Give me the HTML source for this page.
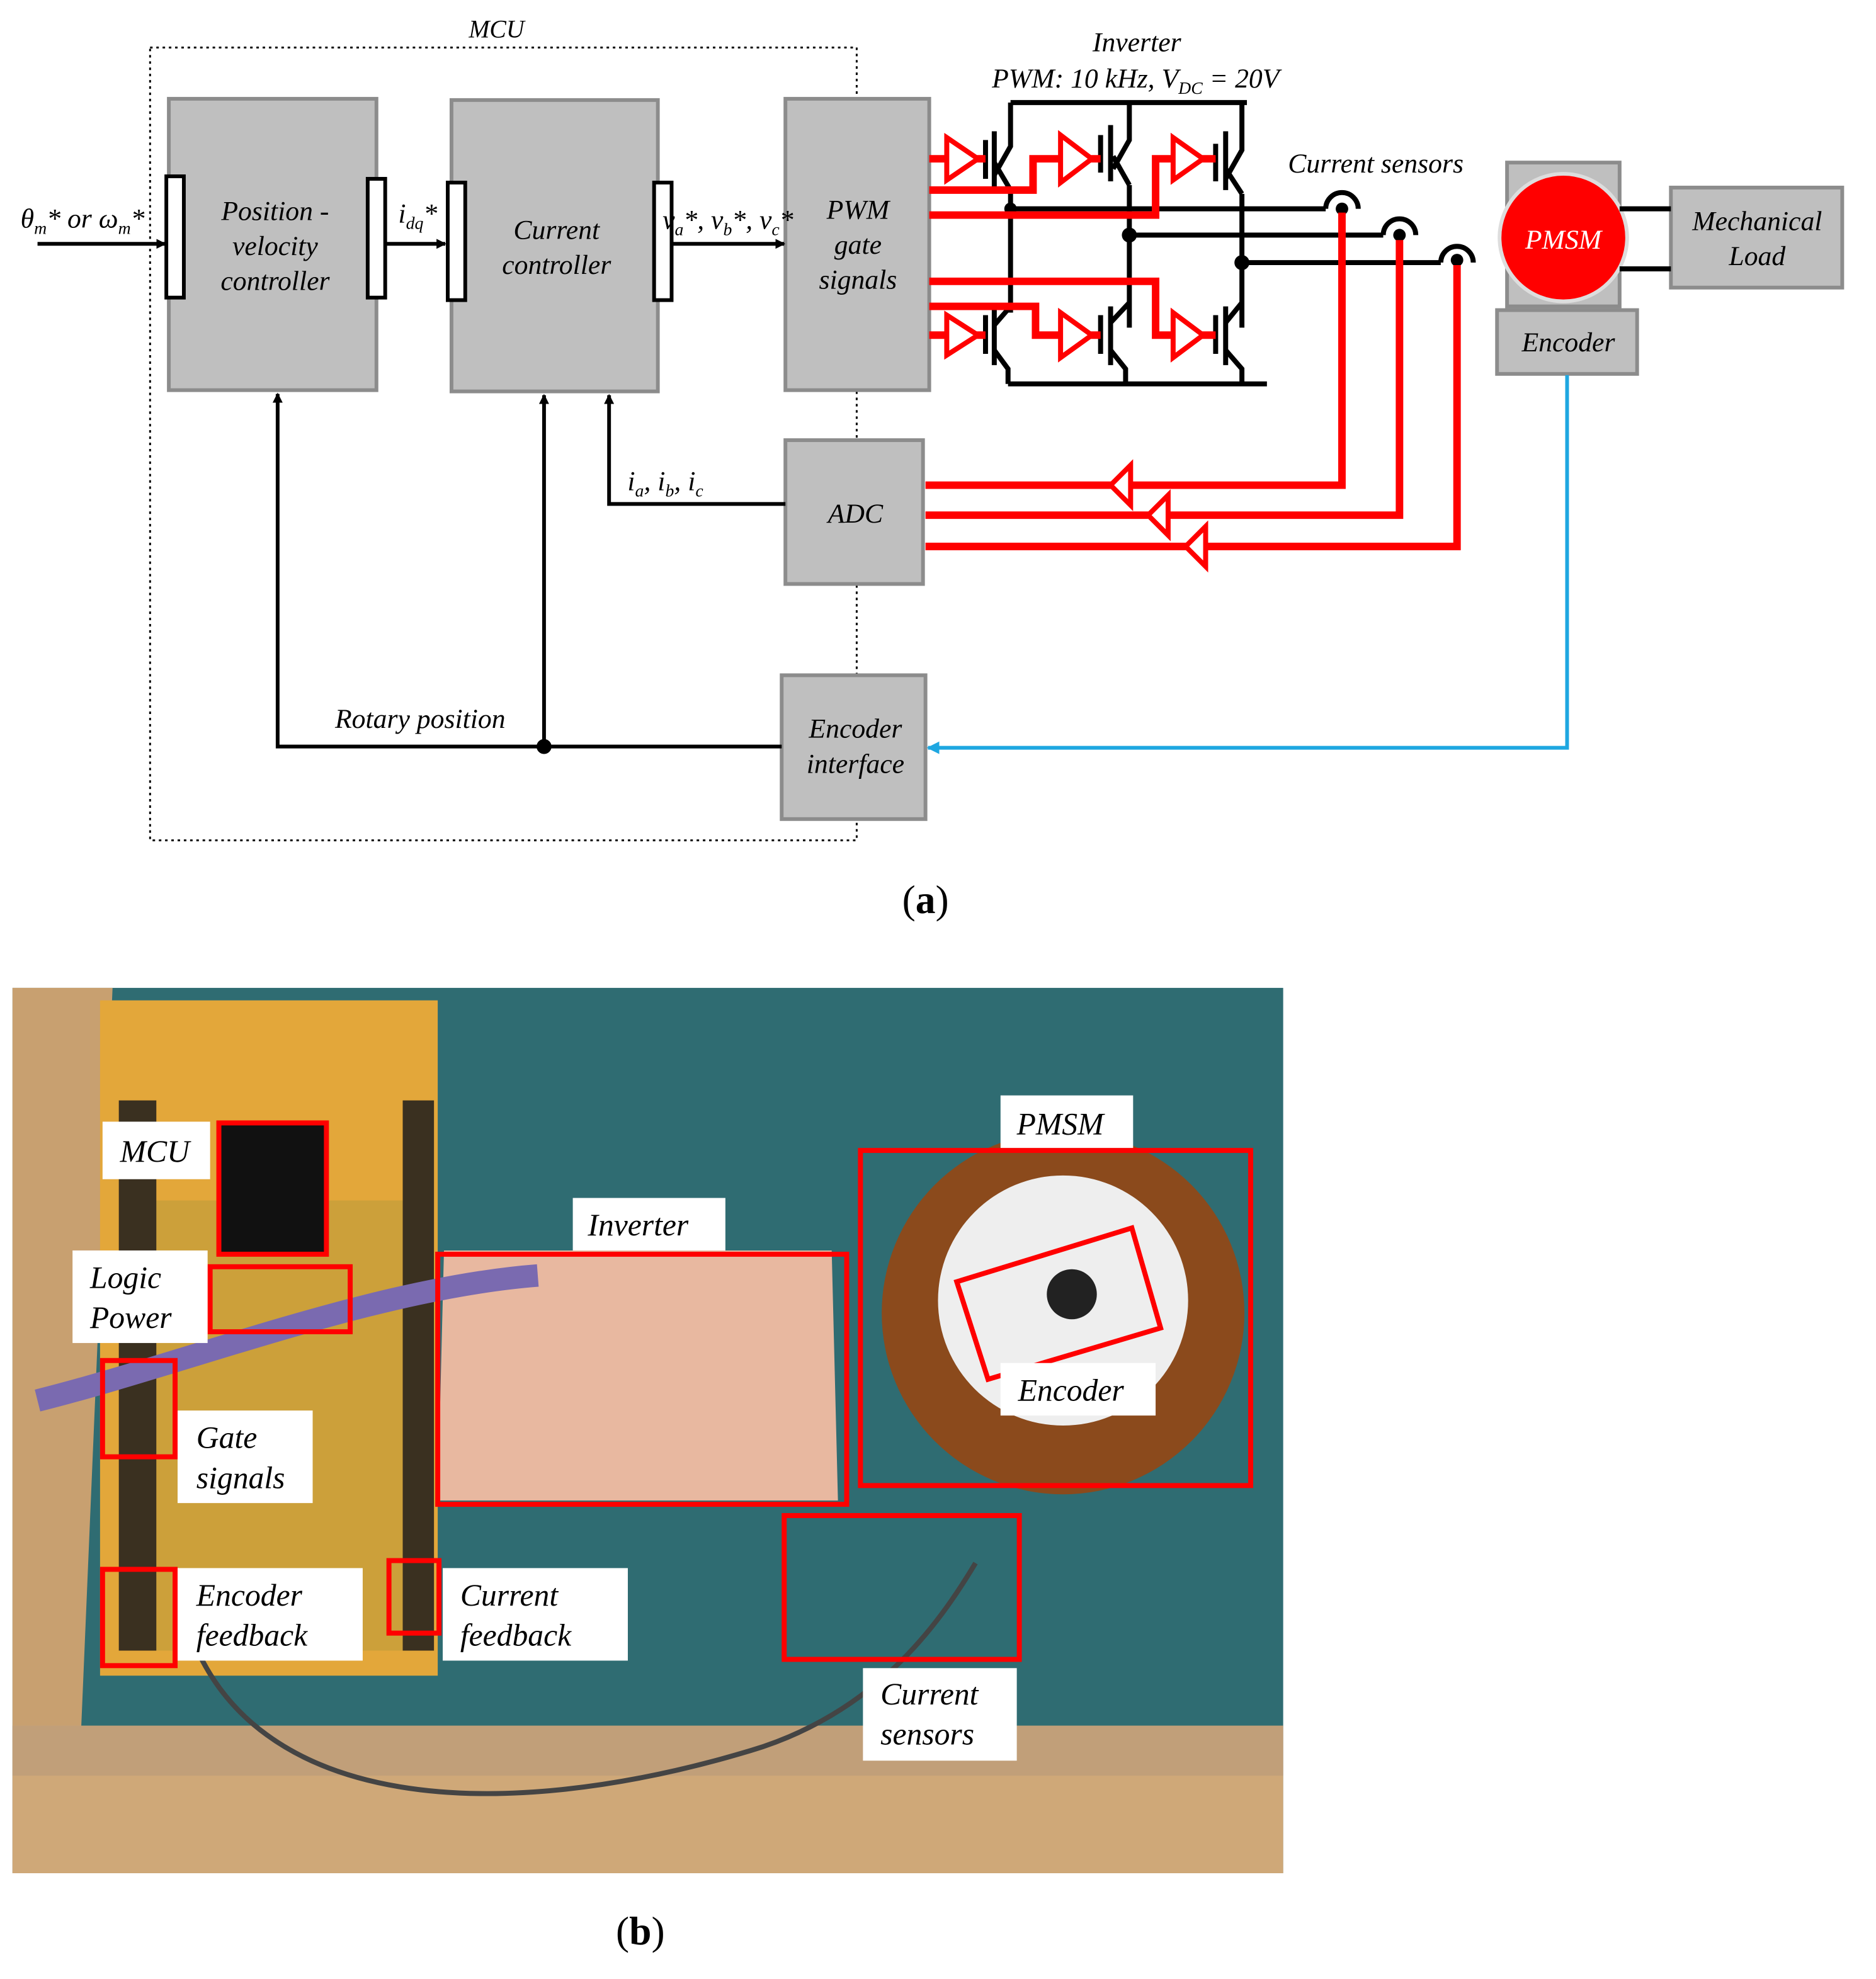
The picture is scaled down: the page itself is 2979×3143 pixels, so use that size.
<!DOCTYPE html>
<html><head><meta charset="utf-8"><style>html,body{margin:0;padding:0;background:#fff}svg{display:block}</style></head><body>
<svg width="2979" height="3143" viewBox="0 0 1500 1582.6" preserveAspectRatio="none" xmlns="http://www.w3.org/2000/svg" font-family="Liberation Serif, serif" font-style="italic">
<defs>
<marker id="ar" markerWidth="8" markerHeight="8" refX="7" refY="4" orient="auto" markerUnits="userSpaceOnUse"><path d="M0,0 L8,4 L0,8z" fill="#000"/></marker>
<marker id="ab" markerWidth="10" markerHeight="10" refX="9" refY="5" orient="auto" markerUnits="userSpaceOnUse"><path d="M0,0 L10,5 L0,10z" fill="#1ea7e1"/></marker>
</defs>
<rect x="120" y="38" width="565" height="634" fill="none" stroke="#000" stroke-width="1.5" stroke-dasharray="2,3"/>
<text x="397" y="30" font-size="20" text-anchor="middle">MCU</text>
<g fill="#bfbfbf" stroke="#8c8c8c" stroke-width="3">
<rect x="135" y="79" width="166" height="233"/><rect x="361" y="80" width="165" height="233"/>
<rect x="628" y="79" width="115" height="233"/><rect x="628" y="352" width="110" height="115"/>
<rect x="625" y="540" width="115" height="115"/><rect x="1205" y="130" width="90" height="115"/>
<rect x="1197" y="248" width="112" height="51"/><rect x="1336" y="150" width="137" height="80"/>
</g>
<g fill="#fff" stroke="#000" stroke-width="3">
<rect x="133" y="141" width="14" height="97"/><rect x="294" y="143" width="14" height="95"/>
<rect x="358" y="146" width="14" height="94"/><rect x="523" y="146" width="14" height="94"/>
</g>
<circle cx="1250" cy="190" r="51" fill="#f00" stroke="#ddd" stroke-width="3"/>
<g font-size="22" text-anchor="middle">
<text x="220" y="176">Position -</text><text x="220" y="204">velocity</text><text x="220" y="232">controller</text>
<text x="445" y="191">Current</text><text x="445" y="219">controller</text>
<text x="686" y="175">PWM</text><text x="686" y="203">gate</text><text x="686" y="231">signals</text>
<text x="684" y="418">ADC</text>
<text x="684" y="590">Encoder</text><text x="684" y="618">interface</text>
<text x="1250" y="199" fill="#fff">PMSM</text>
<text x="1254" y="281">Encoder</text>
<text x="1405" y="184">Mechanical</text><text x="1405" y="212">Load</text>
<text x="909" y="41">Inverter</text>
<text x="908" y="70">PWM: 10 kHz, V<tspan font-size="14" dy="5">DC</tspan><tspan dy="-5"> = 20V</tspan></text>
<text x="1100" y="138">Current sensors</text>
<text x="336" y="582">Rotary position</text>
<text x="532" y="392">i<tspan font-size="14" dy="5">a</tspan><tspan dy="-5">, i</tspan><tspan font-size="14" dy="5">b</tspan><tspan dy="-5">, i</tspan><tspan font-size="14" dy="5">c</tspan></text>
<text x="66" y="182">θ<tspan font-size="14" dy="5">m</tspan><tspan dy="-5">* or ω</tspan><tspan font-size="14" dy="5">m</tspan><tspan dy="-5">*</tspan></text>
<text x="334" y="178">i<tspan font-size="14" dy="5">dq</tspan><tspan dy="-5">*</tspan></text>
<text x="582" y="183">v<tspan font-size="14" dy="5">a</tspan><tspan dy="-5">*, v</tspan><tspan font-size="14" dy="5">b</tspan><tspan dy="-5">*, v</tspan><tspan font-size="14" dy="5">c</tspan><tspan dy="-5">*</tspan></text>
</g>
<text x="740" y="730" font-size="32" font-style="normal" text-anchor="middle">(<tspan font-weight="bold">a</tspan>)</text>
<text x="512" y="1555" font-size="32" font-style="normal" text-anchor="middle">(<tspan font-weight="bold">b</tspan>)</text>
<g stroke="#000" stroke-width="3" fill="none">
<line x1="30" y1="195" x2="132" y2="195" marker-end="url(#ar)"/>
<line x1="308" y1="195" x2="356" y2="195" marker-end="url(#ar)"/>
<line x1="537" y1="195" x2="627" y2="195" marker-end="url(#ar)"/>
<polyline points="625,597 222,597 222,315" marker-end="url(#ar)"/>
<line x1="435" y1="597" x2="435" y2="316" marker-end="url(#ar)"/>
<polyline points="628,403 487,403 487,316" marker-end="url(#ar)"/>
</g>
<circle cx="435" cy="597" r="6"/>
<polyline points="1253,300 1253,598 742,598" stroke="#1ea7e1" stroke-width="3" fill="none" marker-end="url(#ab)"/>
<!-- inverter -->
<g stroke="#000" stroke-width="4" fill="none">
<polyline points="808,82 997,82"/><polyline points="806,307 1013,307"/>
<polyline points="808,82 808,117 795,140"/><polyline points="903,82 903,112 890,135"/><polyline points="993,82 993,120 980,143"/>
<line x1="808" y1="152" x2="808" y2="250"/><line x1="903" y1="148" x2="903" y2="262"/><line x1="993" y1="155" x2="993" y2="262"/>
<line x1="795" y1="130" x2="808" y2="152"/><line x1="890" y1="125" x2="903" y2="148"/><line x1="980" y1="135" x2="993" y2="155"/>
<line x1="795" y1="260" x2="808" y2="245"/><line x1="888" y1="258" x2="903" y2="242"/><line x1="980" y1="258" x2="993" y2="242"/>
<polyline points="795,280 806,295 806,307"/><polyline points="888,280 900,295 900,307"/><polyline points="980,280 993,295 993,307"/>
<line x1="788" y1="112" x2="788" y2="143"/><line x1="795" y1="105" x2="795" y2="150"/>
<line x1="880" y1="108" x2="880" y2="138"/><line x1="888" y1="100" x2="888" y2="145"/>
<line x1="972" y1="115" x2="972" y2="145"/><line x1="980" y1="105" x2="980" y2="152"/>
<line x1="788" y1="252" x2="788" y2="283"/><line x1="795" y1="245" x2="795" y2="292"/>
<line x1="880" y1="252" x2="880" y2="283"/><line x1="888" y1="245" x2="888" y2="292"/>
<line x1="972" y1="252" x2="972" y2="283"/><line x1="980" y1="245" x2="980" y2="292"/>
<polyline points="808,167 1060,167 M1086,167 1200,167"/>
<polyline points="903,188 1106,188 M1132,188 1200,188"/>
<polyline points="993,210 1152,210 M1178,210 1200,210"/>
<path d="M1060,167 a13,13 0 0 1 26,0"/><path d="M1106,188 a13,13 0 0 1 26,0"/><path d="M1152,210 a13,13 0 0 1 26,0"/>
<line x1="1295" y1="167" x2="1336" y2="167"/><line x1="1295" y1="215" x2="1336" y2="215"/>
</g>
<circle cx="808" cy="167" r="5"/><circle cx="903" cy="188" r="6"/><circle cx="993" cy="210" r="6"/>
<circle cx="1073" cy="167" r="5"/><circle cx="1119" cy="188" r="5"/><circle cx="1165" cy="208" r="5"/>
<g stroke="#f00" stroke-width="6" fill="none">
<polyline points="743,127 788,127"/><polyline points="743,152 826,152 826,127 880,127"/><polyline points="743,172 924,172 924,127 972,127"/>
<polyline points="743,268 788,268"/><polyline points="743,245 828,245 828,268 880,268"/><polyline points="743,225 924,225 924,268 972,268"/>
<polyline points="1073,170 1073,388 740,388"/><polyline points="1119,192 1119,412 740,412"/><polyline points="1165,212 1165,437 740,437"/>
</g>
<g fill="#fff" stroke="#f00" stroke-width="4">
<path d="M757,110 L782,127 L757,144z"/><path d="M848,108 L873,127 L848,146z"/><path d="M938,110 L962,127 L938,144z"/>
<path d="M757,252 L782,268 L757,284z"/><path d="M848,250 L873,268 L848,286z"/><path d="M938,250 L962,268 L938,286z"/>
<path d="M904,372 L888,388 L904,404z"/><path d="M934,396 L918,412 L934,428z"/><path d="M964,421 L948,437 L964,453z"/>
</g>
<!-- photo -->
<rect x="10" y="790" width="1016" height="708" fill="#2f6c72"/>
<polygon points="10,790 90,790 60,1498 10,1498" fill="#c8a070"/>
<rect x="10" y="1380" width="1016" height="118" fill="#cfa878"/>
<rect x="10" y="1380" width="1016" height="40" fill="#b89a7a" opacity="0.6"/>
<polygon points="80,800 350,800 350,1340 80,1340" fill="#e3a73a"/>
<rect x="120" y="960" width="210" height="360" fill="#b69a3a" opacity="0.5"/>
<rect x="95" y="880" width="30" height="440" fill="#3a3020"/><rect x="322" y="880" width="25" height="440" fill="#3a3020"/>
<rect x="175" y="898" width="86" height="105" fill="#111"/>
<polygon points="355,1000 665,1000 670,1200 350,1200" fill="#e8b8a0"/>
<circle cx="850" cy="1050" r="145" fill="#8b4a1c"/>
<circle cx="850" cy="1040" r="100" fill="#eee"/>
<circle cx="857" cy="1035" r="20" fill="#222"/>
<path d="M30,1120 C150,1090 300,1030 430,1020" stroke="#7a6ab0" stroke-width="18" fill="none"/>
<path d="M150,1300 C200,1450 400,1460 600,1400 C700,1370 750,1300 780,1250" stroke="#444" stroke-width="4" fill="none"/>
<g fill="none" stroke="#f00" stroke-width="4">
<rect x="175" y="898" width="86" height="105"/><rect x="168" y="1013" width="112" height="52"/>
<rect x="82" y="1088" width="58" height="77"/><rect x="82" y="1255" width="58" height="77"/>
<rect x="311" y="1248" width="40" height="58"/><rect x="350" y="1003" width="327" height="200"/>
<rect x="688" y="920" width="312" height="268"/><rect x="627" y="1212" width="188" height="115"/>
<polygon points="765,1025 905,982 928,1062 790,1103"/>
</g>
<g fill="#fff"><rect x="82" y="897" width="86" height="46"/><rect x="58" y="1000" width="108" height="74"/>
<rect x="458" y="958" width="122" height="42"/><rect x="800" y="876" width="106" height="42"/>
<rect x="800" y="1090" width="124" height="42"/><rect x="142" y="1128" width="108" height="74"/>
<rect x="142" y="1254" width="148" height="74"/><rect x="354" y="1254" width="148" height="74"/>
<rect x="690" y="1334" width="123" height="74"/></g>
<g font-size="25">
<text x="96" y="929">MCU</text><text x="72" y="1030">Logic</text><text x="72" y="1062">Power</text>
<text x="470" y="988">Inverter</text><text x="813" y="907">PMSM</text><text x="814" y="1120">Encoder</text>
<text x="157" y="1158">Gate</text><text x="157" y="1190">signals</text>
<text x="157" y="1284">Encoder</text><text x="157" y="1316">feedback</text>
<text x="368" y="1284">Current</text><text x="368" y="1316">feedback</text>
<text x="704" y="1363">Current</text><text x="704" y="1395">sensors</text>
</g>
</svg>
</body></html>
